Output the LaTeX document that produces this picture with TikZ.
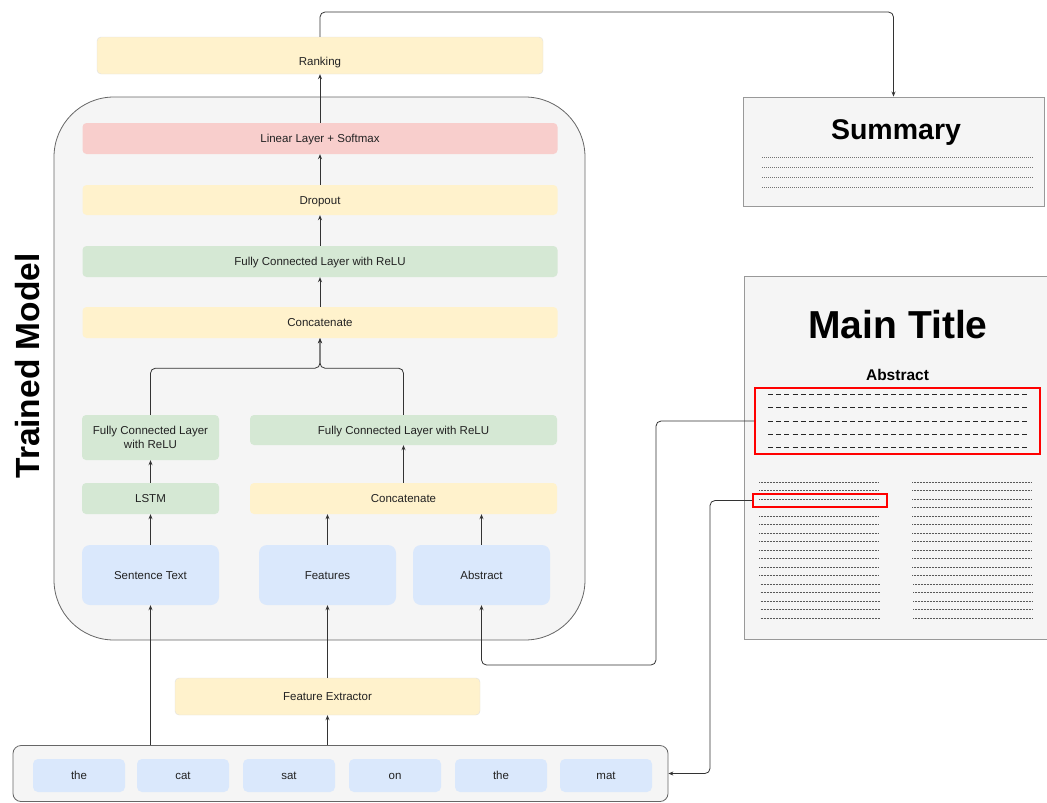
\documentclass[tikz,border=0pt]{standalone}
\usepackage{fontspec}
\setmainfont{Liberation Sans}
\usetikzlibrary{arrows.meta,calc}
\definecolor{bgc}{HTML}{F5F5F5}
\definecolor{bgline}{HTML}{666666}
\definecolor{pinkc}{HTML}{F8CECC}
\definecolor{yelc}{HTML}{FFF2CC}
\definecolor{grnc}{HTML}{D5E8D4}
\definecolor{bluc}{HTML}{DAE8FC}
\definecolor{txtc}{HTML}{222222}
\definecolor{linec}{HTML}{333333}
\definecolor{pagec}{HTML}{999999}
\begin{document}
\begin{tikzpicture}[x=1pt,y=-1pt,
  blk/.style={rounded corners=4pt, inner sep=0pt, align=center, text=txtc,
    font=\fontsize{11.5}{13.5}\selectfont, text height=11.2pt, text depth=2.5pt},
  pinkbox/.style={blk, fill=pinkc},
  yelbox/.style={blk, fill=yelc},
  grnbox/.style={blk, fill=grnc},
  blubox/.style={blk, fill=bluc, rounded corners=8pt},
  wordbox/.style={blk, fill=bluc, rounded corners=5pt, minimum width=92pt, minimum height=33pt},
  arr/.style={draw=linec, line width=0.8pt, -{Stealth[length=5pt,width=4pt]}},
  conn/.style={arr, rounded corners=5pt},
  redbox/.style={draw=red, line width=1.6pt, inner sep=0pt},
  pagebox/.style={draw=pagec, fill=bgc, line width=0.9pt, inner sep=0pt},
  dotl/.style={black!65, line width=1pt, dash pattern=on 0.8pt off 0.7pt}
]
\useasboundingbox (0,0) rectangle (1047,803);

% Trained model container
\node[draw=bgline, fill=bgc, line width=0.8pt, rounded corners=60pt, inner sep=0pt,
  minimum width=531pt, minimum height=543pt] (model) at (319.5,368.5) {};
\node[rotate=90, text=black, font=\bfseries\fontsize{33.5}{36}\selectfont] (tm) at (28,366) {Trained Model};

% Top chain
\node[yelbox, draw=black!12, minimum width=446pt, minimum height=37pt, text height=21.7pt] (rank) at (320,55.5) {Ranking};
\node[pinkbox, minimum width=475pt, minimum height=31pt] (lin) at (320,138.5) {Linear Layer + Softmax};
\node[yelbox, minimum width=475pt, minimum height=30pt] (drop) at (320,200) {Dropout};
\node[grnbox, minimum width=475pt, minimum height=31pt] (fc) at (320,261.5) {Fully Connected Layer with ReLU};
\node[yelbox, minimum width=475pt, minimum height=31pt] (cat) at (320,322.5) {Concatenate};

% Branches
\node[grnbox, text height=, text depth=, minimum width=137pt, minimum height=45pt] (fcl) at (150.5,437.5) {Fully Connected Layer\\with ReLU};
\node[grnbox, minimum width=307pt, minimum height=30pt] (fcr) at (403.5,430) {Fully Connected Layer with ReLU};
\node[grnbox, minimum width=137pt, minimum height=31pt] (lstm) at (150.5,498.5) {LSTM};
\node[yelbox, minimum width=307pt, minimum height=31pt] (cat2) at (403.5,498.5) {Concatenate};

% Inputs
\node[blubox, minimum width=137pt, minimum height=60pt] (sent) at (150.5,575) {Sentence Text};
\node[blubox, minimum width=137pt, minimum height=60pt] (feat) at (327.5,575) {Features};
\node[blubox, minimum width=137pt, minimum height=60pt] (abs) at (481.5,575) {Abstract};

% Feature extractor
\node[yelbox, draw=black!12, minimum width=305pt, minimum height=37pt] (fex) at (327.5,696.5) {Feature Extractor};

% Words container
\node[draw=bgline, fill=bgc, line width=0.8pt, rounded corners=8pt, inner sep=0pt,
  minimum width=655pt, minimum height=56pt] (words) at (340.5,773.5) {};
\node[wordbox] (w1) at (79,775.5) {the};
\node[wordbox] (w2) at (183,775.5) {cat};
\node[wordbox] (w3) at (289,775.5) {sat};
\node[wordbox] (w4) at (395,775.5) {on};
\node[wordbox] (w5) at (501,775.5) {the};
\node[wordbox] (w6) at (606,775.5) {mat};

% Summary page
\node[pagebox, minimum width=301pt, minimum height=109pt] (sum) at (893.5,151.5) {};
\node[font=\bfseries\fontsize{28.5}{30}\selectfont, text=black] (sumt) at (896,133) {Summary};
\foreach \yy in {157,167,177,187}
  \draw[black!55, line width=0.7pt, dash pattern=on 1pt off 1pt] (762,\yy) -- (1034,\yy);

% Main page
\node[pagebox, minimum width=306pt, minimum height=363pt] (page) at (897,457.5) {};
\node[font=\bfseries\fontsize{39}{42}\selectfont, text=black] (mt) at (898,325) {Main Title};
\node[font=\bfseries\fontsize{15.5}{17}\selectfont, text=black] (abst) at (897.5,375) {Abstract};
\foreach \yy in {394,407.5,421,434.5,447.5}
  \draw[black!85, line width=1pt, dash pattern=on 5pt off 3.2pt] (768,\yy) -- (1028,\yy);
\foreach \i in {0,...,11}{
  \draw[dotl] (759,482+\i*8.5) -- (878,482+\i*8.5);
  \draw[dotl] (912,482+\i*8.5) -- (1031,482+\i*8.5);
}
\foreach \i in {12,...,16}{
  \draw[dotl] (760.5,482+\i*8.5) -- (879.5,482+\i*8.5);
  \draw[dotl] (913,482+\i*8.5) -- (1032,482+\i*8.5);
}
\node[redbox, minimum width=285pt, minimum height=66pt] (redA) at (897.5,421) {};
\node[redbox, minimum width=134pt, minimum height=13pt] (redS) at (820,500.5) {};

% Connectors
\coordinate (t1) at (600,12);
\draw[conn] (rank.north) |- (t1) -| (sum.north);
\draw[arr] (lin.north) -- (rank.south);
\draw[arr] (drop.north) -- (lin.south);
\draw[arr] (fc.north) -- (drop.south);
\draw[arr] (cat.north) -- (fc.south);
\coordinate (jc) at ($(cat.south)+(0,30)$);
\draw[conn] (fcl.north) |- (jc) -- (cat.south);
\draw[conn] (fcr.north) |- (jc) -- (cat.south);
\draw[arr] (lstm.north) -- (fcl.south);
\draw[arr] (sent.north) -- (lstm.south);
\draw[arr] (cat2.north) -- (fcr.south);
\draw[arr] (feat.north) -- (feat.north |- cat2.south);
\draw[arr] (abs.north) -- (abs.north |- cat2.south);
\draw[arr] (sent.south |- words.north) -- (sent.south);
\draw[arr] (fex.south |- words.north) -- (fex.south);
\draw[arr] (fex.north) -- (feat.south);
\coordinate (j1) at (656,665);
\draw[conn] (redA.west) -| (j1) -| (abs.south);
\coordinate (j2) at (710,773.5);
\draw[conn] (redS.west) -| (j2) -- (words.east);
\end{tikzpicture}
\end{document}
